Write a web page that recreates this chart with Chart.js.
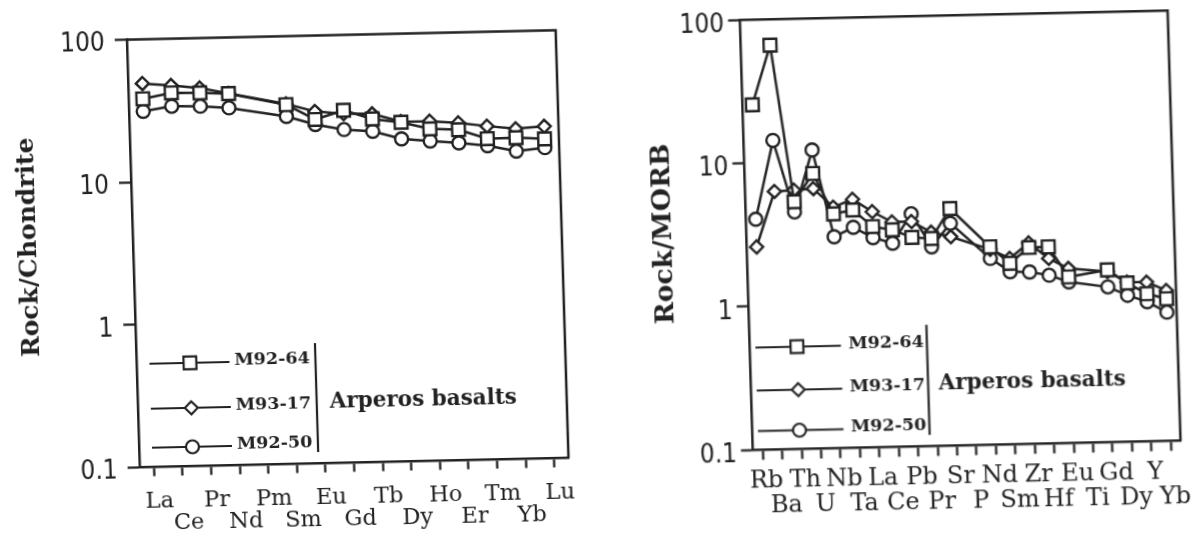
<!DOCTYPE html>
<html>
<head>
<meta charset="utf-8">
<script src="https://cdn.jsdelivr.net/npm/chart.js@4.4.1/dist/chart.umd.min.js"></script>
<style>
  html, body { margin: 0; padding: 0; background: #fff; }
  /* the scanned page is slightly skewed, so the whole sheet is skewed the same way */
  #sheet {
    position: absolute; left: 0; top: 0; width: 1195px; height: 540px;
    transform-origin: 597px 270px;
    transform: matrix(1, -0.022, 0.03, 1, 0, 0);
  }
  #ree { position: absolute; left: 0; top: 0; }
  #spider { position: absolute; left: 620px; top: 0; }
</style>
</head>
<body>
<div id="sheet">
  <canvas id="ree" width="620" height="540"></canvas>
  <canvas id="spider" width="575" height="540"></canvas>
</div>
<script>
// --- data ---
const sampleNames = ['M92-64', 'M93-17', 'M92-50'];
const yTicks = [0.1, 1, 10, 100];

// chondrite-normalised REE
const reeLabels = ['La', 'Ce', 'Pr', 'Nd', 'Pm', 'Sm', 'Eu', 'Gd', 'Tb', 'Dy', 'Ho', 'Er', 'Tm', 'Yb', 'Lu'];
const reeM9264 = [38.3, 41.7, 41.3, 40.4, null, 33.1, 25.8, 29.6, 25.5, 23.9, 21.3, 20.8, 17.8, 17.9, 17.4];
const reeM9317 = [49, 47, 44.7, 40.5, null, 33.5, 29.4, 28, 27.7, 24.2, 24.1, 23.2, 21.8, 20.7, 21.3];
const reeM9250 = [31.3, 33.6, 33.3, 32.1, null, 27.4, 23.8, 21.7, 20.9, 18.3, 17.5, 16.8, 15.9, 14.4, 15.1];

// MORB-normalised trace elements
const spiderLabels = ['Rb', 'Ba', 'Th', 'U', 'Nb', 'Ta', 'La', 'Ce', 'Pb', 'Pr', 'Sr', 'P', 'Nd', 'Sm', 'Zr', 'Hf', 'Eu', 'Ti', 'Gd', 'Dy', 'Y', 'Yb'];
const spiderM9264 = [25.5, 66, 5.3, 8.3, 4.3, 4.55, 3.46, 3.26, 2.87, 2.8, 4.5, null, 2.4, 1.83, 2.34, 2.35, 1.44, null, 1.59, 1.28, 1.07, 0.98];
const spiderM9317 = [2.6, 6.3, 6.4, 6.5, 4.8, 5.4, 4.4, 3.7, 3.7, 3.1, 2.86, null, 2.3, 1.98, 2.52, 1.95, 1.65, null, 1.55, 1.3, 1.29, 1.12];
const spiderM9250 = [4.06, 14.3, 4.5, 12.1, 2.98, 3.44, 2.9, 2.63, 4.2, 2.45, 3.55, null, 1.99, 1.6, 1.58, 1.49, 1.33, null, 1.21, 1.05, 0.94, 0.79];

const INK = '#222';
const SERIF = "'DejaVu Serif', serif";
const TICKFONT = "'Liberation Sans Narrow', 'DejaVu Sans Condensed', sans-serif";

// labels alternate between an upper and a lower row
function twoRows(labels) {
    return labels.map((l, i) => (i % 2 === 0 ? [l, ''] : ['', l]));
}

function makeDatasets(series) {
    const styles = [
        { pointStyle: 'rect', pointRadius: 9 },
        { pointStyle: 'rectRot', pointRadius: 6.5 },
        { pointStyle: 'circle', pointRadius: 6.5 }
    ];
    return series.map((data, i) => ({
        label: sampleNames[i],
        data: data,
        borderColor: INK,
        borderWidth: 2.5,
        pointBorderColor: INK,
        pointBackgroundColor: '#fff',
        pointBorderWidth: 2.4,
        pointStyle: styles[i].pointStyle,
        pointRadius: styles[i].pointRadius,
        spanGaps: true,
        tension: 0
    }));
}

// box frame, key and y title
const frameAndKey = {
    id: 'frameAndKey',
    afterDraw(chart, args, o) {
        const ctx = chart.ctx;
        const a = chart.chartArea;
        ctx.save();
        ctx.strokeStyle = INK;
        ctx.lineWidth = 2.5;
        ctx.beginPath();
        ctx.moveTo(a.left, a.top);
        ctx.lineTo(a.right, a.top);
        ctx.lineTo(a.right, a.bottom);
        ctx.stroke();

        chart.data.datasets.forEach((ds, i) => {
            const y = o.rowY[i];
            ctx.lineWidth = 2.2;
            ctx.strokeStyle = INK;
            ctx.beginPath();
            ctx.moveTo(o.lineFrom, y);
            ctx.lineTo(o.lineTo, y);
            ctx.stroke();
            ctx.fillStyle = '#fff';
            Chart.helpers.drawPoint(ctx, { pointStyle: ds.pointStyle, radius: ds.pointRadius, borderWidth: 2.2, rotation: 0 }, o.markX, y);
            ctx.fillStyle = INK;
            ctx.font = 'bold 17.5px ' + SERIF;
            ctx.textAlign = 'left';
            ctx.textBaseline = 'middle';
            ctx.fillText(ds.label, o.textX, y - 2);
        });

        ctx.lineWidth = 2.2;
        ctx.beginPath();
        ctx.moveTo(o.barX, o.barTop);
        ctx.lineTo(o.barX, o.barBottom);
        ctx.stroke();

        ctx.font = 'bold 21.5px ' + SERIF;
        ctx.textAlign = 'left';
        ctx.textBaseline = 'middle';
        ctx.fillText('Arperos basalts', o.groupX, o.groupY);

        ctx.translate(o.titleX, o.titleY);
        ctx.rotate(-Math.PI / 2);
        ctx.font = 'bold ' + o.titleSize + 'px ' + SERIF;
        ctx.textAlign = 'center';
        ctx.fillText(o.title, 0, 0);
        ctx.restore();
    }
};

function makeChart(id, labels, series, lay) {
    return new Chart(document.getElementById(id), {
        type: 'line',
        data: { labels: twoRows(labels), datasets: makeDatasets(series) },
        plugins: [frameAndKey],
        options: {
            responsive: false,
            animation: false,
            layout: { padding: { left: 0, top: lay.top, right: lay.right, bottom: 0 } },
            plugins: {
                legend: { display: false },
                tooltip: { enabled: false },
                frameAndKey: lay.key
            },
            scales: {
                x: {
                    type: 'category',
                    offset: true,
                    afterFit: s => { s.height = lay.xHeight; },
                    border: { display: true, color: INK, width: 2.5 },
                    grid: { display: true, drawOnChartArea: false, drawTicks: true, tickLength: lay.xTickLen, tickWidth: 2.3, tickColor: INK },
                    ticks: {
                        autoSkip: false, maxRotation: 0, minRotation: 0,
                        color: INK, padding: lay.xPad, labelOffset: lay.xLabelOffset,
                        font: { family: SERIF, size: lay.xFont, lineHeight: lay.xLine }
                    }
                },
                y: {
                    type: 'logarithmic',
                    min: 0.1,
                    max: 100,
                    afterFit: s => { s.width = lay.yWidth; },
                    afterBuildTicks: s => { s.ticks = yTicks.map(v => ({ value: v })); },
                    border: { display: true, color: INK, width: 2.5 },
                    grid: { display: true, drawOnChartArea: false, drawTicks: true, tickLength: 12, tickWidth: 2.3, tickColor: INK },
                    ticks: {
                        color: INK, padding: lay.yPad, labelOffset: lay.yLabelOffset,
                        font: { family: TICKFONT, size: 26 },
                        callback: v => String(v)
                    }
                }
            }
        }
    });
}

makeChart('ree', reeLabels, [reeM9264, reeM9317, reeM9250], {
    top: 29.5, right: 57, xHeight: 82.5, yWidth: 134,
    xTickLen: 9, xPad: 14, xFont: 22.5, xLine: 1.0, xLabelOffset: 5,
    yPad: 10, yLabelOffset: 4,
    key: {
        rowY: [354, 399, 438], lineFrom: 147, lineTo: 227, markX: 187.5, textX: 232,
        barX: 313, barTop: 337, barBottom: 446, groupX: 326, groupY: 396,
        titleX: 30.5, titleY: 235, title: 'Rock/Chondrite', titleSize: 25
    }
});

makeChart('spider', spiderLabels, [spiderM9264, spiderM9317, spiderM9250], {
    top: 23.3, right: 20, xHeight: 86.7, yWidth: 127.5,
    xTickLen: 10, xPad: 9, xFont: 24, xLine: 1.04, xLabelOffset: 3,
    yPad: 4, yLabelOffset: 5,
    key: {
        rowY: [351, 394, 434.5], lineFrom: 133, lineTo: 218.5, markX: 174.5, textX: 226,
        barX: 304.5, barTop: 332, barBottom: 442, groupX: 315, groupY: 391,
        titleX: 45, titleY: 235.4, title: 'Rock/MORB', titleSize: 26.5
    }
});
</script>
</body>
</html>
